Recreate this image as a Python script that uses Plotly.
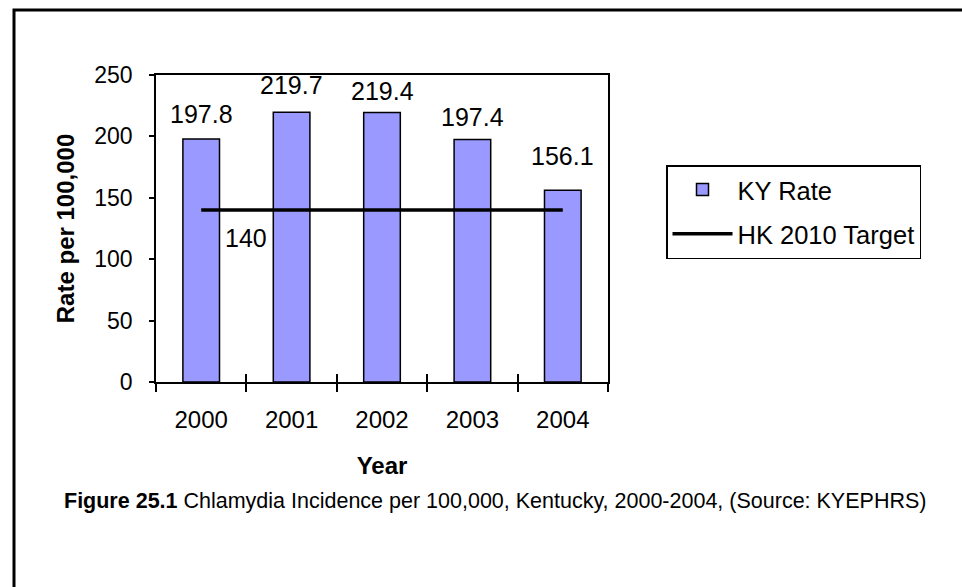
import plotly.graph_objects as go

years = ["2000", "2001", "2002", "2003", "2004"]
ky_rate = [197.8, 219.7, 219.4, 197.4, 156.1]
hk_target = [140, 140, 140, 140, 140]
y_ticks = [0, 50, 100, 150, 200, 250]

FONT = "Liberation Sans, Arial, sans-serif"
W, H = 962, 587
L, R, T, B = 156, 354, 75, 205
PW, PH = W - L - R, H - T - B

def px_x(px):
    return (px - L) / PW

def px_y(py):
    return (H - B - py) / PH

fig = go.Figure()
fig.add_trace(go.Bar(
    x=years, y=ky_rate, name="KY Rate", legendgroup="a",
    marker=dict(color="#9999FF", line=dict(color="black", width=1.5)),
    xaxis="x", yaxis="y",
))
fig.add_trace(go.Scatter(
    x=years, y=hk_target, name="HK 2010 Target", mode="lines", legendgroup="b",
    line=dict(color="black", width=3.5),
    xaxis="x2", yaxis="y",
))

annotations = []
label_gap = [15, 17, 12, 13, 24]
for i, (v, g) in enumerate(zip(ky_rate, label_gap)):
    annotations.append(dict(
        x=i, y=v, xref="x", yref="y", text=f"{v}", showarrow=False,
        xanchor="center", yanchor="bottom", yshift=g - 6,
        font=dict(family=FONT, size=25, color="black"),
    ))
annotations.append(dict(
    x=0, y=hk_target[0], xref="x", yref="y", text=f"{hk_target[0]}",
    showarrow=False, xanchor="center", yanchor="middle", xshift=45, yshift=-28,
    font=dict(family=FONT, size=25, color="black"),
))
annotations.append(dict(
    x=px_x(62), y=px_y(501), xref="paper", yref="paper",
    text="<b>Figure 25.1</b> Chlamydia Incidence per 100,000, Kentucky, 2000-2004, (Source: KYEPHRS)",
    showarrow=False, xanchor="left", yanchor="middle",
    font=dict(family=FONT, size=21.5, color="black"),
))

fig.update_layout(
    width=W, height=H,
    margin=dict(l=L, r=R, t=T, b=B, autoexpand=False),
    paper_bgcolor="white", plot_bgcolor="white",
    bargap=0.595,
    showlegend=True,
    legend=dict(
        x=px_x(666), y=px_y(165), xanchor="left", yanchor="top",
        bordercolor="black", borderwidth=1.5, bgcolor="white",
        font=dict(family=FONT, size=25.5, color="black"),
        itemwidth=60, tracegroupgap=8, traceorder="grouped",
    ),
    font=dict(family=FONT, color="black"),
    xaxis=dict(
        type="category", range=[-0.5, 4.5], showgrid=False,
        showline=True, linecolor="black", linewidth=1.5, mirror=True,
        ticks="outside", ticklen=8, tickwidth=1.5, tickcolor="black",
        tickson="boundaries",
        tickfont=dict(family=FONT, size=24, color="black"),
        ticklabelstandoff=15,
        title=dict(text="<b>Year</b>", font=dict(family=FONT, size=24, color="black"), standoff=26),
        automargin=False,
    ),
    xaxis2=dict(
        type="category", range=[-0.5, 4.5], overlaying="x", anchor="y",
        showgrid=False, showline=False, showticklabels=False,
        ticks="inside", ticklen=8, tickwidth=1.5, tickcolor="black",
        tickson="boundaries", automargin=False,
    ),
    yaxis=dict(
        range=[0, 250], tickvals=y_ticks, showgrid=False, zeroline=False,
        showline=True, linecolor="black", linewidth=1.5, mirror=True,
        ticks="outside", ticklen=5, tickwidth=1.5, tickcolor="black",
        tickfont=dict(family=FONT, size=23, color="black"),
        ticklabelstandoff=12,
        title=dict(text="<b>Rate per 100,000</b>", font=dict(family=FONT, size=24, color="black"), standoff=13),
        automargin=False,
    ),
    annotations=annotations,
    shapes=[dict(
        type="rect", xref="paper", yref="paper",
        x0=px_x(14), y0=px_y(700), x1=px_x(1100), y1=px_y(10),
        line=dict(color="black", width=3), fillcolor="rgba(0,0,0,0)", layer="below",
    )],
)

fig.write_html("out.html")
